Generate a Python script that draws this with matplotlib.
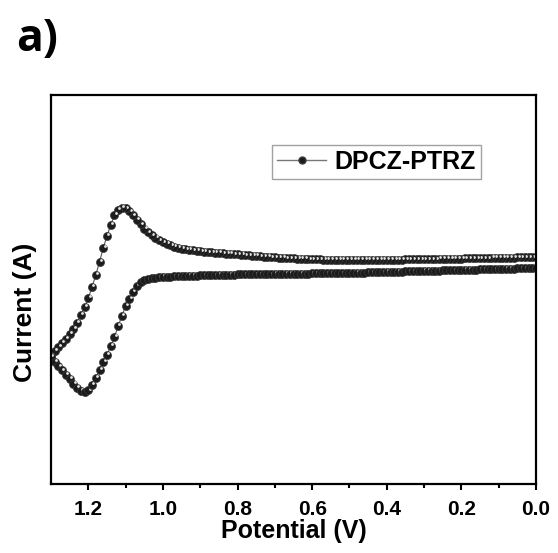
import numpy as np
import matplotlib.pyplot as plt
from matplotlib import transforms
from matplotlib.lines import Line2D

plt.rcParams['font.family'] = ['Liberation Sans', 'DejaVu Sans']
plt.rcParams['font.weight'] = 'bold'

# forward scan 0.00 -> 1.30 V, 0.01 V step
fwd_potential = np.round(np.arange(131) * 0.01, 2)
fwd_current = [
    9.98, 9.97, 9.97, 9.96, 9.95, 9.95, 9.94, 9.93, 9.93, 9.92,
    9.91, 9.90, 9.90, 9.89, 9.88, 9.88, 9.87, 9.86, 9.86, 9.85,
    9.84, 9.83, 9.83, 9.82, 9.81, 9.81, 9.80, 9.79, 9.79, 9.78,
    9.77, 9.77, 9.76, 9.76, 9.75, 9.75, 9.74, 9.73, 9.73, 9.72,
    9.72, 9.72, 9.71, 9.71, 9.71, 9.70, 9.70, 9.70, 9.70, 9.70,
    9.70, 9.70, 9.71, 9.71, 9.72, 9.72, 9.73, 9.74, 9.75, 9.76,
    9.77, 9.78, 9.80, 9.81, 9.83, 9.85, 9.87, 9.89, 9.91, 9.93,
    9.95, 9.98, 10.01, 10.04, 10.07, 10.10, 10.13, 10.16, 10.19, 10.22,
    10.25, 10.28, 10.31, 10.34, 10.37, 10.40, 10.43, 10.46, 10.49, 10.52,
    10.55, 10.60, 10.65, 10.70, 10.77, 10.82, 10.90, 11.00, 11.15, 11.30,
    11.45, 11.65, 11.90, 12.15, 12.45, 12.80, 13.25, 13.70, 14.15, 14.55,
    14.85, 14.90, 14.70, 14.20, 13.20, 12.10, 10.90, 9.50, 8.20, 7.00,
    5.90, 5.00, 4.20, 3.40, 2.80, 2.30, 1.80, 1.40, 1.00, 0.60, 0.10,
]

# reverse scan 1.30 -> 0.00 V
rev_potential = fwd_potential[::-1]
rev_current = [
    0.00, -0.50, -0.95, -1.35, -1.80, -2.20, -2.70, -3.10, -3.40, -3.50,
    -3.35, -2.80, -2.10, -1.30, -0.50, 0.20, 1.10, 2.00, 3.10, 4.10,
    5.10, 5.80, 6.50, 7.10, 7.45, 7.65, 7.75, 7.85, 7.90, 7.95,
    8.00, 8.02, 8.04, 8.06, 8.08, 8.10, 8.11, 8.12, 8.13, 8.14,
    8.15, 8.16, 8.17, 8.18, 8.19, 8.20, 8.21, 8.22, 8.23, 8.24,
    8.25, 8.25, 8.26, 8.26, 8.27, 8.27, 8.28, 8.28, 8.29, 8.29,
    8.30, 8.30, 8.31, 8.31, 8.32, 8.32, 8.33, 8.33, 8.34, 8.34,
    8.35, 8.35, 8.36, 8.36, 8.37, 8.37, 8.38, 8.38, 8.39, 8.39,
    8.40, 8.41, 8.42, 8.43, 8.44, 8.45, 8.46, 8.47, 8.48, 8.49,
    8.50, 8.51, 8.52, 8.53, 8.54, 8.55, 8.56, 8.57, 8.58, 8.59,
    8.60, 8.61, 8.62, 8.63, 8.64, 8.65, 8.66, 8.67, 8.68, 8.69,
    8.70, 8.71, 8.72, 8.73, 8.74, 8.75, 8.76, 8.77, 8.78, 8.79,
    8.80, 8.81, 8.82, 8.83, 8.84, 8.85, 8.86, 8.87, 8.88, 8.89, 8.90,
]

xticks = [1.2, 1.0, 0.8, 0.6, 0.4, 0.2, 0.0]
sample = 'DPCZ-PTRZ'

fig = plt.figure(figsize=(5.58, 5.53), dpi=100)
ax = fig.add_axes([0.0914, 0.1248, 0.8692, 0.7034])

# little white spot on every ball, up and to the right
spot = transforms.offset_copy(ax.transData, fig=fig, x=1.3, y=1.5, units='dots')

for pot, cur in [(fwd_potential, fwd_current), (rev_potential, rev_current)]:
    ax.plot(pot, cur, '-', color='#555555', lw=0.8)
    for x, y in zip(pot, cur):
        ax.plot(x, y, 'o', ms=5.8, mfc='#1c1c1c', mec='#3a3a3a', mew=0.5)
        ax.plot(x, y, 'o', ms=2.0, mfc='#e6e6e6', mec='none', transform=spot)

ax.set_xlim(1.3, 0.0)
ax.set_ylim(-12.7, 26.2)
ax.set_xticks(xticks)
ax.set_xticklabels([f'{t:.1f}' for t in xticks])
ax.set_xticks(np.arange(0.1, 1.3, 0.2), minor=True)
ax.set_yticks([])
ax.tick_params(axis='x', which='major', direction='out', length=4.5, width=1.5,
               labelsize=15, pad=7)
ax.tick_params(axis='x', which='minor', direction='out', length=3, width=1.5)
for s in ax.spines.values():
    s.set_linewidth(1.6)

ax.set_xlabel('Potential (V)', fontsize=18, weight='bold', labelpad=0)
ax.set_ylabel('Current (A)', fontsize=19, weight='bold')
ax.yaxis.set_label_coords(-0.029, 0.442)

handle = Line2D([], [], color='#777777', lw=1, marker='o', ms=5,
                mfc='#1c1c1c', mec='#3a3a3a')
leg = ax.legend([handle], [sample], loc='upper left', bbox_to_anchor=(0.456, 0.871),
                borderaxespad=0, fancybox=False, frameon=True, handlelength=1.95,
                handletextpad=0.35, prop={'size': 18, 'weight': 'bold'},
                borderpad=0.2)
leg.get_frame().set_edgecolor('#8a8a8a')
leg.get_frame().set_linewidth(1.0)

fig.text(16 / 558, 1 - 51 / 553, 'a)', fontsize=32, weight='bold',
         family=['Open Sans', 'DejaVu Sans'], va='baseline')

fig.savefig('out.png', dpi=100)
